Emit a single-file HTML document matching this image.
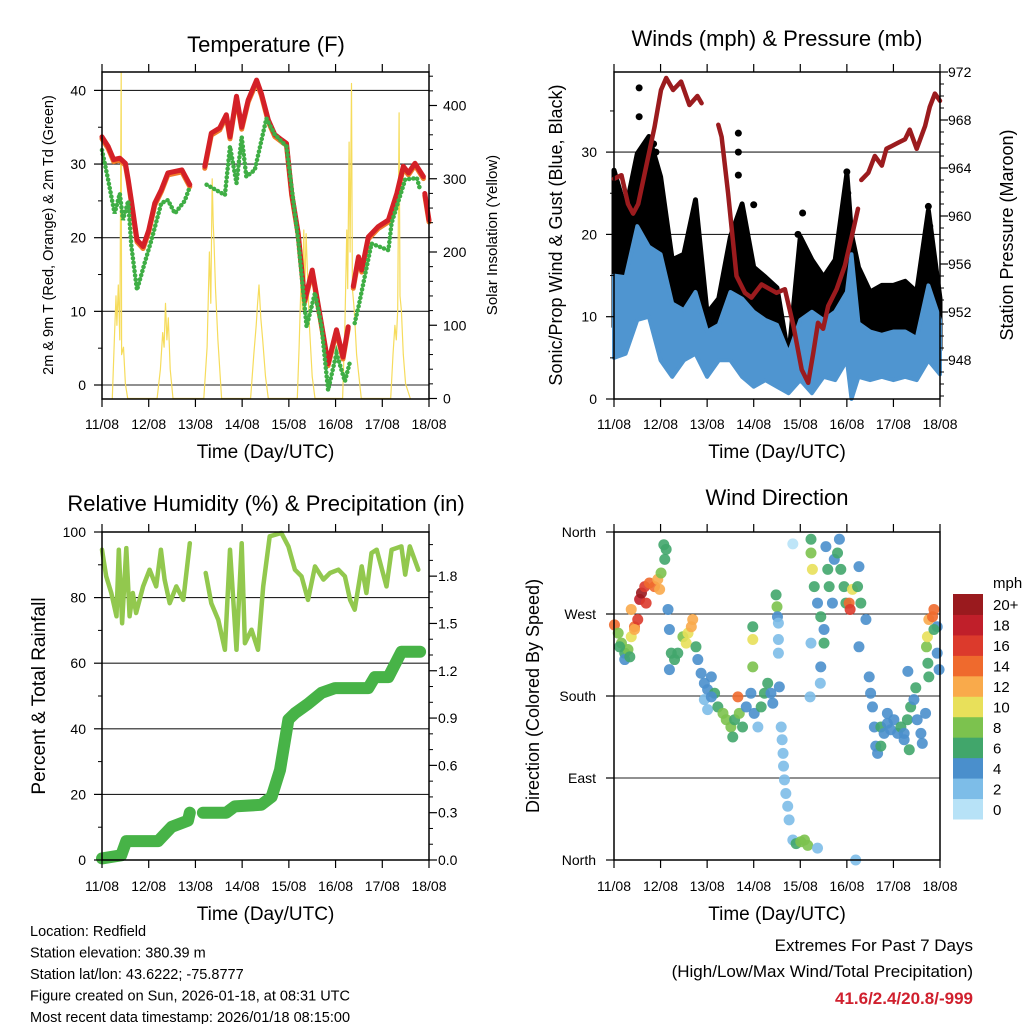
<!DOCTYPE html>
<html><head><meta charset="utf-8"><style>
html,body{margin:0;padding:0;background:#fff}
svg{display:block;font-family:"Liberation Sans",Arial,sans-serif}
</style></head><body>
<svg id="c" width="1024" height="1024" viewBox="0 0 1024 1024" xmlns="http://www.w3.org/2000/svg"></svg>
<script>
// ---------- DATA ----------
const dayLabels=["11/08","12/08","13/08","14/08","15/08","16/08","17/08","18/08"];
// Temperature (F)
const tempT=[0,.13,.25,.38,.5,.56,.63,.75,.88,1.0,1.13,1.27,1.41,1.56,1.71,1.88,null,2.2,2.34,2.52,2.66,2.74,2.88,2.99,3.13,3.31,3.41,3.56,3.7,3.84,3.95,4.06,4.2,4.34,4.5,4.66,4.84,5.02,5.16,5.27,null,5.38,5.49,5.56,5.7,5.91,6.13,6.31,6.45,6.56,6.7,6.88,null,6.91,7.0];
const tempRed=[33.7,32.4,30.6,30.8,30.1,27.9,25,19.7,18.8,21,24.7,26.5,28.8,29,29.2,27.2,null,29.7,34.2,34.9,36.7,33.7,39.2,35,38.7,41.4,39.6,36,34,33.3,32.8,26,20.6,11.5,15.6,9.7,2.9,7.5,3.8,7.9,null,13.4,17.4,15.6,20.1,21.5,22.4,26,29.7,28.8,30.1,28.3,null,26,22.4];
const dewT=[0,.13,.27,.38,.45,.56,.63,.75,.91,1.06,1.27,1.41,1.56,1.77,1.88,null,2.24,2.63,2.74,2.88,2.99,3.09,3.27,3.52,3.7,3.95,4.2,4.38,4.56,4.7,4.84,5.02,5.2,5.31,null,5.41,5.49,5.77,6.13,6.2,6.49,6.74,6.81];
const dewV=[31.9,27.9,23.3,26,22.4,25,18.8,12.9,16.5,19.7,24.7,25.1,23.3,25,26.9,null,27.2,25.8,32.4,27.4,33.7,28.3,29.2,36.2,34,32.4,19.7,7.9,12.5,7.9,-0.7,4.3,0.5,3.2,null,8.4,10.6,19.2,18.3,22,27.9,28.1,26.5];
const solarT=[0.22,0.27,0.3,0.32,0.35,0.38,0.41,0.42,0.46,0.5,0.55,1.18,1.25,1.3,1.33,1.36,1.39,1.42,1.46,1.52,2.18,2.25,2.3,2.33,2.36,2.38,2.4,2.43,2.48,2.56,3.18,3.25,3.3,3.33,3.36,3.4,3.44,3.5,3.56,4.18,4.22,4.26,4.29,4.32,4.34,4.37,4.4,4.44,4.5,4.56,5.15,5.2,5.24,5.26,5.29,5.31,5.34,5.36,5.4,5.45,5.55,6.18,6.23,6.27,6.3,6.33,6.36,6.38,6.41,6.45,6.5,6.6];
const solarV=[0,90,140,100,155,80,445,60,70,20,0,0,40,90,70,130,80,110,40,0,0,70,200,130,300,240,210,150,80,0,0,60,100,130,155,110,80,30,0,0,70,160,120,230,140,225,170,100,30,0,0,100,230,150,350,200,430,150,120,60,0,0,60,100,80,120,390,140,120,60,20,0];
// Winds (mph) and pressure (mb)
const windT=[0,.25,.5,.75,1,1.25,1.5,1.75,2,2.25,2.5,2.75,3,3.25,3.5,3.75,4,4.25,4.5,4.75,5,5.1,5.25,5.5,5.75,6,6.25,6.5,6.75,7];
const windHigh=[15,14.8,21,18.5,17.6,11.6,10.8,13,8.2,9,13,12.2,10.6,9.6,9,5.5,9.6,10.6,9.6,10.6,13,17.6,9.2,8.2,7.8,8.2,8.2,7.4,13.8,9.6];
const windLow=[5,5.5,9.6,10,4.7,2.7,4.7,5.5,2.7,4.7,4.7,2.7,1.5,2.3,1.5,0.7,2.3,0.7,2.7,2.3,4.7,0,2.7,2.3,2.7,2.3,2.7,2.3,4.7,3];
const gustHigh=[27.8,22.9,29.8,31.9,27,16.9,17.6,24.2,10.4,12.2,19.7,23.7,16,14.8,13.5,5,19.7,16.9,14.8,16.9,27.4,20,16,13,13.8,13.8,14.3,13,22.9,12.2];
const gustLow=[8.8,8.8,13,16.9,14,6.8,8.8,10.4,3.9,6.8,8.8,12.2,6.8,6,4.7,1.5,8.8,8,6.8,5.5,10.4,9,6.8,6.8,5.5,5.5,6,5.5,10.8,6];
const gustPeakT=[0.54,0.54,0.9,0.85,2.67,2.67,2.67,3.0,4.05,5.0,5.02,6.75,6.78,1.7,3.95];
const gustPeakV=[37.8,34.3,30,31,32.3,30,27.2,23.6,22.6,27.6,25,23.4,21,21.5,20];
const presT=[0,.16,.30,.41,.52,.87,1.01,1.12,1.27,1.44,1.62,1.79,1.88,null,2.24,2.31,2.45,2.63,2.81,2.95,3.17,3.35,3.49,3.67,3.85,4.03,4.17,4.28,4.38,4.49,4.6,4.78,4.96,5.14,5.24,null,5.31,5.46,5.6,5.75,5.85,6.1,6.25,6.35,6.5,6.68,6.78,6.89,7.0];
const presV=[963.1,963.4,961,960.2,961,967.4,970.5,971.5,970.5,971.2,969.25,970,969.4,null,967.6,966.6,961.9,955,953.6,953.2,954.3,953.9,953.6,953.9,950.9,947.2,946.1,948.6,951.1,950.6,952.5,953.9,955.9,958.9,960.6,null,963,963.6,965,964.2,965.6,966.1,966.4,967.2,965.6,967.5,969.1,970.2,969.6];
// Relative humidity (%) and precipitation (in)
const rhT=[0,.09,.2,.31,.36,.43,.52,.59,.66,.73,.88,1.02,1.16,1.26,1.34,1.45,1.59,1.74,1.88,null,2.22,2.34,2.49,2.63,2.74,2.88,2.99,3.06,3.2,3.34,3.45,3.59,3.84,3.99,4.13,4.27,4.41,4.56,4.74,4.88,5.06,5.2,5.31,5.41,5.56,5.66,5.77,5.88,6.09,6.2,6.41,6.49,6.59,6.77];
const rhV=[94.6,86.5,81.4,74.3,94.6,72.2,95.1,74.3,81.4,75.3,83.4,88.5,83.4,94.6,85.5,78.3,83.4,79.3,96.6,null,87.5,78.3,73.2,64.1,94.6,64.1,96.6,66.1,70.2,64.1,83.4,98.7,99.7,95.6,88.5,86.5,79.3,89.5,85.5,87.5,88.5,86.5,79.3,76.3,89.5,81.4,93.6,94.6,83.4,94.6,95.6,87,95.6,88.5];
const prT=[0,.41,.52,1.2,1.49,1.84,1.88,null,2.16,2.66,2.84,3.41,3.63,3.81,3.99,4.13,4.41,4.7,4.99,5.7,5.84,6.13,6.41,6.81];
const prV=[0.01,0.03,0.12,0.12,0.21,0.25,0.30,null,0.30,0.30,0.34,0.35,0.40,0.57,0.89,0.93,0.99,1.06,1.09,1.09,1.16,1.16,1.32,1.32];
// Wind direction (deg) colored by speed (mph)
const dirT=[.01,.09,.16,.23,.30,.37,.44,.51,.37,.44,.23,.12,.34,.55,.59,.66,.76,.87,.94,1.01,1.09,1.12,1.07,.98,.69,
1.16,1.19,1.23,1.19,1.3,1.37,1.48,1.59,1.66,1.69,1.55,1.76,1.8,1.87,1.94,2.01,2.09,2.16,
1.94,2.01,2.09,2.23,2.34,2.41,2.51,2.59,2.66,2.69,2.55,2.76,2.84,2.94,2.98,2.98,2.98,3.01,3.09,3.16,3.23,3.3,3.37,3.41,3.48,3.5,3.51,3.53,3.53,3.53,3.55,
3.59,3.61,3.63,3.64,3.66,3.69,3.73,3.76,3.84,3.91,4.01,4.09,4.16,4.37,3.84,
4.23,4.23,4.26,4.3,4.37,4.44,4.51,4.51,4.55,4.59,4.62,4.69,4.73,4.8,4.84,4.87,4.94,4.98,5.05,5.07,5.12,5.23,5.26,5.3,5.41,5.26,4.23,4.44,4.43,4.21,
5.48,5.51,5.55,5.59,5.62,5.66,5.73,5.8,5.87,5.94,6.01,6.09,6.16,6.23,6.3,6.37,6.44,6.51,6.59,6.62,6.69,6.31,6.48,5.73,5.87,6.23,6.34,
6.71,6.73,6.76,6.84,6.87,6.74,6.76,6.94,6.98,6.94,6.87,5.19];
const dirV=[258,249,238,227,231,245,256,264,275,253,220,234,223,286,293,300,304,300,308,315,330,341,346,297,282,
275,253,227,209,220,227,245,249,256,264,238,234,220,205,194,187,201,183,
176,165,179,168,161,154,146,154,179,161,135,146,168,183,212,242,256,161,146,168,183,194,183,172,291,278,267,260,242,227,190,
146,132,117,103,88,73,59,44,22,18,20,22,16,13,347,
352,337,319,300,282,267,253,238,344,319,300,282,330,337,352,319,300,282,282,275,297,300,322,282,264,234,238,212,194,179,
201,183,168,146,125,117,146,139,150,143,154,139,146,132,154,168,176,154,139,128,161,207,189,125,161,139,121,
234,245,264,267,275,216,201,227,209,256,253,0];
const dirSpd=[14,8,8,6,8,10,14,16,12,12,4,6,6,18,20,16,14,14,12,8,6,6,6,12,16,
4,4,6,4,6,6,8,10,12,12,10,6,4,4,4,4,4,6,
2,2,4,6,8,8,8,6,14,8,6,6,4,4,8,10,6,4,2,6,6,6,4,4,6,8,4,2,2,2,4,
2,2,2,2,2,2,2,2,2,6,8,8,8,2,0,
6,8,10,6,4,6,4,6,4,6,6,4,4,6,4,6,6,6,14,16,10,6,4,6,4,4,2,4,2,2,
4,4,4,4,4,4,6,4,4,4,4,4,6,4,6,6,4,4,4,4,4,4,6,6,4,4,6,
8,10,12,14,14,6,6,4,4,4,6,2];
const spdLabels=["0","2","4","6","8","10","12","14","16","18","20+"];
const spdColors=["#b7e2f7","#7dbde8","#4a8fcc","#41a66b","#7cc24e","#e8e05a","#f9aa4b","#ef6a2d","#dc3a2c","#c01f2a","#9a1a1e"];

// ---------- DRAWING ----------
const NS="http://www.w3.org/2000/svg";
const svg=document.getElementById("c");
function el(tag,attrs,parent){const e=document.createElementNS(NS,tag);for(const k in attrs)e.setAttribute(k,attrs[k]);(parent||svg).appendChild(e);return e;}
function txt(s,x,y,size,anchor,parent,extra){const e=el("text",Object.assign({x:x,y:y,"font-size":size,"text-anchor":anchor||"middle",fill:"#000"},extra||{}),parent);e.textContent=s;return e;}
function pathD(ts,vs,fx,fy){let d="",pen=false;for(let i=0;i<ts.length;i++){if(ts[i]===null||vs[i]===null){pen=false;continue;}d+=(pen?"L":"M")+fx(ts[i]).toFixed(1)+","+fy(vs[i]).toFixed(1);pen=true;}return d;}

function panel(x0,y0,x1,y1,name){
  const g=el("g",{});
  
  
  return {g,x0,y0,x1,y1,sx:t=>x0+t*(x1-x0)/7};
}
function frame(p){
  const f=el("rect",{x:p.x0,y:p.y0,width:p.x1-p.x0,height:p.y1-p.y0,fill:"none",stroke:"#000","stroke-width":1.5},p.g);
  
  
}
function xAxis(p,labelY,titleY){
  const ax=el("g",{},p.g);
  
  
  for(let d=0;d<=7;d++){
    const x=p.sx(d);
    el("line",{x1:x,y1:p.y1,x2:x,y2:p.y1+8,stroke:"#000","stroke-width":1.2},ax);
    el("line",{x1:x,y1:p.y0,x2:x,y2:p.y0-8,stroke:"#000","stroke-width":1.2},ax);
    const l=txt(dayLabels[d],x,labelY,14,"middle",ax);
    
    
  }
  const t=txt("Time (Day/UTC)",(p.x0+p.x1)/2,titleY,19,"middle",ax);
  
  
}
function yTicks(p,side,vals,fy,labels,minor,labelX,anchor,name){
  const ax=el("g",{},p.g);
  
  
  const xe=side==="L"?p.x0:p.x1, dir=side==="L"?-1:1;
  vals.forEach((v,i)=>{
    const y=fy(v);
    el("line",{x1:xe,y1:y,x2:xe+dir*8,y2:y,stroke:"#000","stroke-width":1.2},ax);
    if(labels[i]!==""){const l=txt(labels[i],labelX,y+5,14,anchor,ax);
      
      }
  });
  minor.forEach(v=>{const y=fy(v);el("line",{x1:xe,y1:y,x2:xe+dir*4,y2:y,stroke:"#000","stroke-width":1},ax);});
}
function grid(p,vals,fy){
  vals.forEach(v=>{const y=fy(v);const l=el("line",{x1:p.x0,y1:y,x2:p.x1,y2:y,stroke:"#222","stroke-width":1.1},p.g);
    
    });
}
function title(s,x,y,name,size){const t=txt(s,x,y,size||22,"middle");}
function ytitle(s,x,y,size,name){const t=txt(s,0,0,size,"middle",svg,{transform:`translate(${x},${y}) rotate(-90)`});}

// ---- Panel 1: Temperature ----
const p1=panel(102,72,429,399,"temperature-panel");
const t1=v=>385-v*7.365, s1=v=>398.5-v*0.7325;
grid(p1,[0,10,20,30,40],t1);
const solar=el("path",{d:pathD(solarT,solarV,p1.sx,s1),fill:"none",stroke:"#f6dc5c","stroke-width":1.2,"stroke-linejoin":"round"},p1.g);


const orange=el("path",{d:pathD(tempT,tempRed,p1.sx,v=>t1(v)+2),fill:"none",stroke:"#f07b2a","stroke-width":5,"stroke-linejoin":"round","stroke-linecap":"round"},p1.g);


const red=el("path",{d:pathD(tempT,tempRed,p1.sx,t1),fill:"none",stroke:"#d42027","stroke-width":5,"stroke-linejoin":"round","stroke-linecap":"round"},p1.g);


const dew=el("path",{d:pathD(dewT,dewV,p1.sx,t1),fill:"none",stroke:"#3fae45","stroke-width":4.5,"stroke-dasharray":"0.1 4.2","stroke-linecap":"round"},p1.g);


frame(p1);
yTicks(p1,"L",[0,10,20,30,40],t1,["0","10","20","30","40"],[5,15,25,35],86,"end","y-axis-left");
yTicks(p1,"R",[0,100,200,300,400],s1,["0","100","200","300","400"],[20,40,60,80,120,140,160,180,220,240,260,280,320,340,360,380,420,440],443,"start","y-axis-right");
xAxis(p1,429,458);
title("Temperature (F)",266,52,"temperature-title");
ytitle("2m & 9m T (Red, Orange) & 2m Td (Green)",53,235,14.5,"y-axis-title-left");
ytitle("Solar Insolation (Yellow)",497,235,15,"y-axis-title-right");

// ---- Panel 2: Winds ----
const p2=panel(614,72,940,399,"winds-panel");
const w2=v=>399-v*8.23, pr2=v=>72+(972-v)*12;
grid(p2,[10,20,30],w2);
const gpoly=pathD(windT,gustHigh,p2.sx,w2)+pathD(windT.slice().reverse(),gustLow.slice().reverse(),p2.sx,w2).replace(/^M/,"L")+"Z";
const gb=el("path",{d:gpoly,fill:"#000",stroke:"#000","stroke-width":5,"stroke-linejoin":"round"},p2.g);


gustPeakT.forEach((t,i)=>{const c=el("circle",{cx:p2.sx(t),cy:w2(gustPeakV[i]),r:3.5,fill:"#000"},p2.g);
  
  });
const wpoly=pathD(windT,windHigh,p2.sx,w2)+pathD(windT.slice().reverse(),windLow.slice().reverse(),p2.sx,w2).replace(/^M/,"L")+"Z";
const wb=el("path",{d:wpoly,fill:"#4f95d0",stroke:"#4f95d0","stroke-width":4,"stroke-linejoin":"round"},p2.g);


const pl=el("path",{d:pathD(presT,presV,p2.sx,pr2),fill:"none",stroke:"#9b1b1e","stroke-width":4.5,"stroke-linejoin":"round","stroke-linecap":"round"},p2.g);


frame(p2);
yTicks(p2,"L",[0,10,20,30],w2,["0","10","20","30"],[5,15,25,35],597,"end","y-axis-left");
const pMaj=[948,952,956,960,964,968,972], pMin=[];for(let v=945;v<=972;v++)if(v%4)pMin.push(v);
yTicks(p2,"R",pMaj,pr2,pMaj.map(String),pMin,948,"start","y-axis-right");
xAxis(p2,429,458);
title("Winds (mph) & Pressure (mb)",777,46,"winds-title");
ytitle("Sonic/Prop Wind & Gust (Blue, Black)",562,235,18,"y-axis-title-left");
ytitle("Station Pressure (Maroon)",1013,235,18,"y-axis-title-right");

// ---- Panel 3: RH & Precip ----
const p3=panel(102,532,429,860,"humidity-panel");
const h3=v=>860-v*3.28, r3=v=>860-v*157.7;
grid(p3,[20,40,60,80],h3);
const rh=el("path",{d:pathD(rhT,rhV,p3.sx,h3),fill:"none",stroke:"#92c84e","stroke-width":4.5,"stroke-linejoin":"round","stroke-linecap":"round"},p3.g);


const pr=el("path",{d:pathD(prT,prV,p3.sx,r3),fill:"none",stroke:"#47b347","stroke-width":12,"stroke-linejoin":"round","stroke-linecap":"round"},p3.g);


frame(p3);
yTicks(p3,"L",[0,20,40,60,80,100],h3,["0","20","40","60","80","100"],[10,30,50,70,90],86,"end","y-axis-left");
yTicks(p3,"R",[0,0.3,0.6,0.9,1.2,1.5,1.8],r3,["0.0","0.3","0.6","0.9","1.2","1.5","1.8"],[0.1,0.2,0.4,0.5,0.7,0.8,1.0,1.1,1.3,1.4,1.6,1.7,1.9,2.0],438,"start","y-axis-right");
xAxis(p3,891,920);
title("Relative Humidity (%) & Precipitation (in)",266,511,"humidity-title");
ytitle("Percent & Total Rainfall",45,696,19,"y-axis-title-left");

// ---- Panel 4: Wind direction ----
const p4=panel(614,532,940,860,"wind-direction-panel");
const d4=v=>860-v*0.9111;
grid(p4,[90,180,270],d4);
dirT.forEach((t,i)=>{
  const bin=Math.min(10,Math.floor(dirSpd[i]/2));
  const c=el("circle",{cx:p4.sx(t),cy:d4(dirV[i]),r:5.5,fill:spdColors[bin],"fill-opacity":0.9},p4.g);
  
  
});
frame(p4);
yTicks(p4,"L",[0,90,180,270,360],d4,["North","East","South","West","North"],[],596,"end","y-axis-left");
xAxis(p4,891,920);
title("Wind Direction",777,505,"wind-direction-title");
ytitle("Direction (Colored By Speed)",539,696,18,"y-axis-title-left");

// colorbar
const cb=el("g",{});


const cbH=225/11;
for(let i=0;i<11;i++){
  const y=594+(10-i)*cbH;
  const r=el("rect",{x:953,y:y,width:30,height:cbH+0.5,fill:spdColors[i]},cb);
  
  
  const l=txt(spdLabels[i],993,y+cbH/2+6,15,"start",cb);
  
  
}
const mph=txt("mph",993,588,15,"start",cb);



// ---- Footer text ----
const info=["Location: Redfield","Station elevation: 380.39 m","Station lat/lon: 43.6222; -75.8777","Figure created on Sun, 2026-01-18, at 08:31 UTC","Most recent data timestamp: 2026/01/18 08:15:00"];
info.forEach((s,i)=>{const t=txt(s,30,936+i*21.5,14.5,"start");
  
  });
const e1=txt("Extremes For Past 7 Days",973,951,17,"end");


const e2=txt("(High/Low/Max Wind/Total Precipitation)",973,977,17,"end");


const e3=txt("41.6/2.4/20.8/-999",973,1004,17,"end",svg,{fill:"#d0202e","font-weight":"bold"});


</script>
</body></html>
